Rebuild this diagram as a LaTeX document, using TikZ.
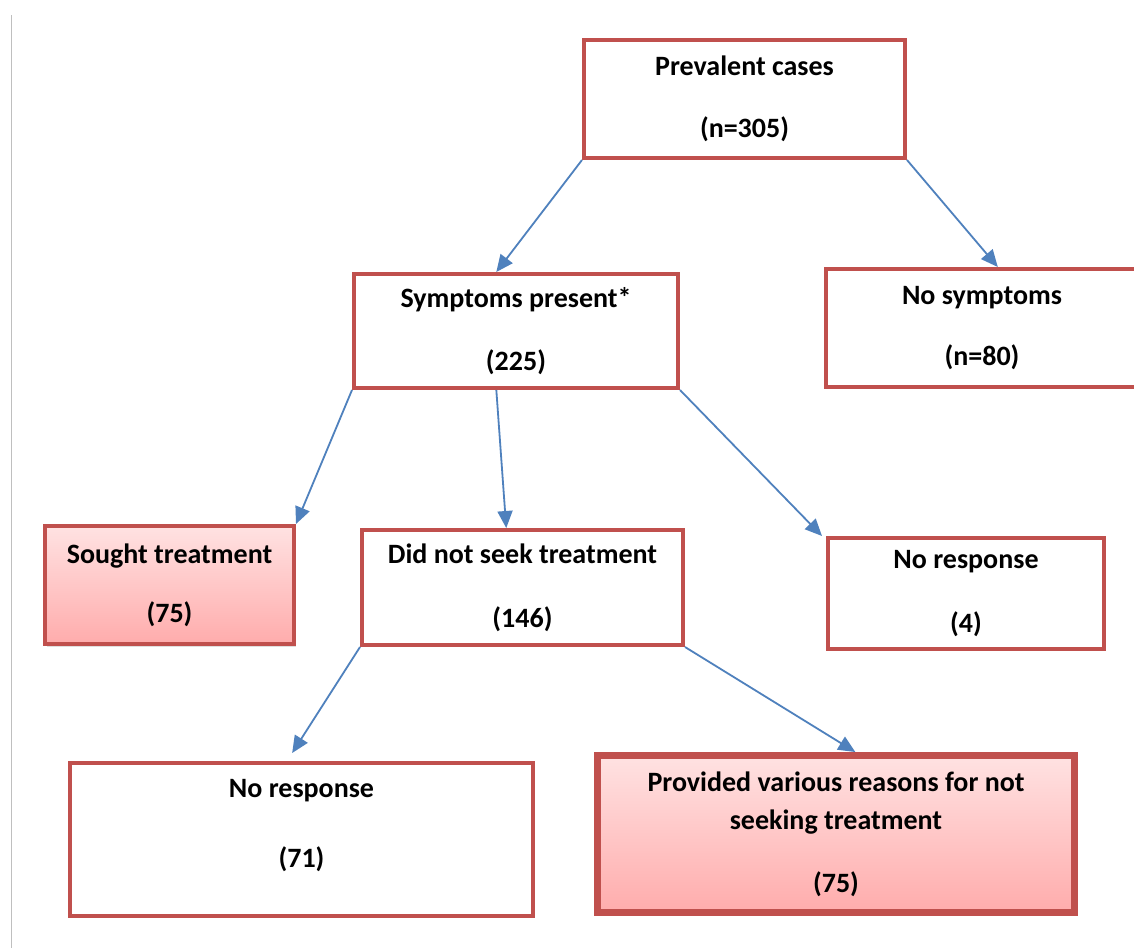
\documentclass[tikz,border=0pt]{standalone}
\usepackage{fontspec}
\setmainfont{Carlito}
\usetikzlibrary{calc,arrows.meta,shadows}

\definecolor{boxred}{RGB}{192,80,77}
\definecolor{arrowblue}{RGB}{79,129,189}
\definecolor{pinktop}{RGB}{255,226,226}
\definecolor{pinkbot}{RGB}{255,172,172}

\tikzset{
  box/.style={draw=boxred, line width=4pt, fill=white, align=center,
    font=\fontsize{28}{33}\selectfont\bfseries, inner sep=0pt},
  pinkbox/.style={box, top color=pinktop, bottom color=pinkbot,
    drop shadow={opacity=0.25, shadow xshift=2pt, shadow yshift=-3pt}},
  flow/.style={draw=arrowblue, line width=1.8pt,
    -{Triangle[length=17pt,width=15pt]}}
}

\begin{document}
\begin{tikzpicture}[x=1pt,y=-1pt]

% Page frame
\useasboundingbox (0,0) rectangle (1134,948);
\fill[white] (0,0) rectangle (1134,948);
\draw[black!25, line width=1pt] (11,15) -- (11,948);

% Top level
\node[box, minimum width=321pt, minimum height=118pt] (prev) at (744.5,99)
  {Prevalent cases\\[29pt](n=305)};

% Second level
\node[box, minimum width=324pt, minimum height=114pt] (symp) at (516,331)
  {Symptoms present*\\[30pt](225)};
\node[box, minimum width=312pt, minimum height=118pt] (nosymp) at (982,328)
  {No symptoms\\[28pt](n=80)};

% Third level
\node[pinkbox, minimum width=249pt, minimum height=118pt] (sought) at (169.5,585)
  {Sought treatment\\[26pt](75)};
\node[box, minimum width=321pt, minimum height=115pt] (noseek) at (522.5,587.5)
  {Did not seek treatment\\[31pt](146)};
\node[box, minimum width=276pt, minimum height=111pt] (noresp) at (966,593.5)
  {No response\\[31pt](4)};

% Fourth level
\node[box, minimum width=463pt, minimum height=153pt] (noresptwo) at (301.5,839.5)
  {No response\\[37pt](71)\\[0pt]~};
\node[pinkbox, line width=7pt, minimum width=477pt, minimum height=157pt] (reasons) at (836,834)
  {Provided various reasons for not\\[5pt]seeking treatment\\[30pt](75)};

% Connectors
\draw[flow] (prev.south west) -- ($(symp.north west)!0.44!(symp.north east)$);
\draw[flow] (prev.south east) -- ($(nosymp.north west)!0.55!(nosymp.north east)$);
\draw[flow] (symp.south west) -- (sought.north east);
\draw[flow] ($(symp.south west)!0.44!(symp.south east)$) -- ($(noseek.north west)!0.45!(noseek.north east)$);
\draw[flow] (symp.south east) -- ($(noresp.north west)+(-4,0)$);
\draw[flow] (noseek.south west) -- ($(noresptwo.north west)!0.48!(noresptwo.north east)+(0,-8)$);
\draw[flow] (noseek.south east) -- ($(reasons.north west)!0.54!(reasons.north east)$);

\end{tikzpicture}
\end{document}
